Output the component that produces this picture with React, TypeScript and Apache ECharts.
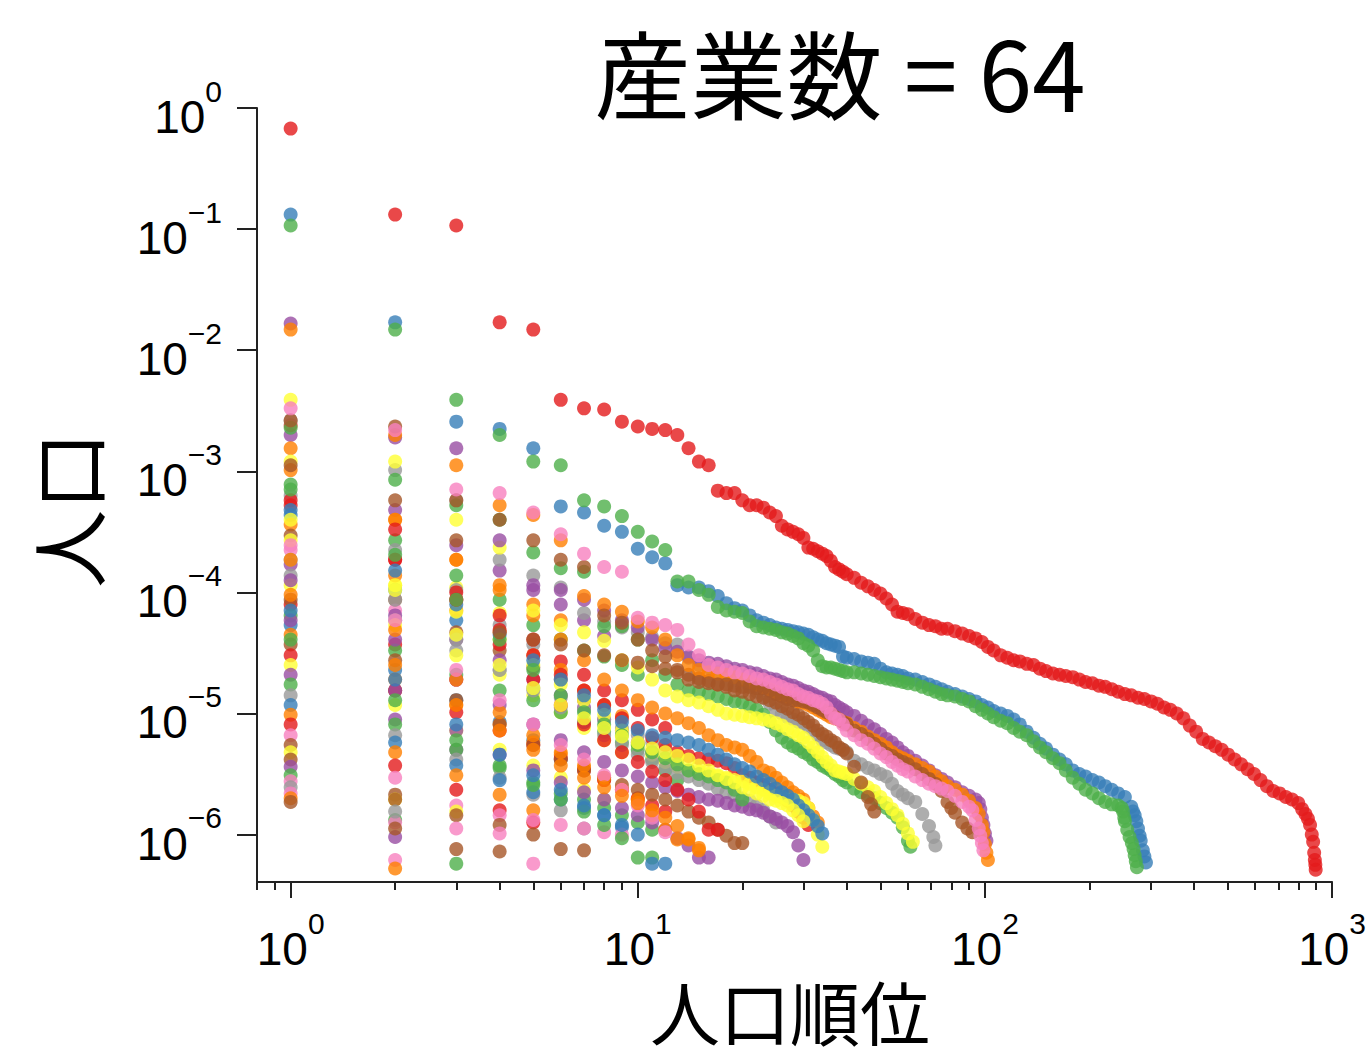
import { useEffect, useRef } from "react";
import * as echarts from "echarts";

// ---------------- DATA (values are log10 of population share, ranks are 1..n) ----------------
const redHead = [-0.17,-0.88,-0.97,-1.77,-1.83,-2.41,-2.48,-2.49,-2.59,-2.63,-2.65,-2.66,-2.70,-2.81,-2.92,-2.95,-3.16,-3.18,-3.18,-3.24,-3.28,-3.28,-3.30,-3.34,-3.37,-3.45,-3.48,-3.50,-3.52,-3.55,-3.63,-3.64,-3.66,-3.68,-3.70,-3.74,-3.79,-3.81,-3.83,-3.85];
const redTail = [[42,-3.88],[44,-3.92],[46,-3.95],[48,-3.98],[50,-4.01],[52,-4.05],[54,-4.10],[56,-4.16],[58,-4.17],[60,-4.18],[63,-4.22],[66,-4.25],[69,-4.27],[72,-4.28],[75,-4.30],[78,-4.30],[82,-4.32],[86,-4.34],[90,-4.36],[94,-4.38],[98,-4.41],[102,-4.45],[106,-4.48],[111,-4.52],[116,-4.54],[121,-4.56],[126,-4.57],[132,-4.59],[138,-4.60],[144,-4.63],[150,-4.65],[157,-4.67],[164,-4.68],[171,-4.69],[179,-4.70],[187,-4.72],[195,-4.74],[204,-4.75],[213,-4.77],[222,-4.78],[232,-4.80],[242,-4.82],[253,-4.84],[264,-4.85],[276,-4.87],[288,-4.88],[301,-4.90],[314,-4.92],[328,-4.95],[342,-4.97],[357,-5.00],[373,-5.04],[389,-5.10],[406,-5.15],[424,-5.21],[442,-5.24],[461,-5.27],[481,-5.30],[502,-5.34],[524,-5.38],[547,-5.42],[571,-5.46],[596,-5.50],[622,-5.55],[649,-5.60],[677,-5.64],[706,-5.66],[736,-5.69],[767,-5.71],[799,-5.74],[820,-5.79],[838,-5.83],[852,-5.87],[864,-5.92],[874,-6.00],[882,-6.06],[888,-6.15],[892,-6.21],[895,-6.25],[897,-6.29]];

const blueHead = [-0.88,-1.77,-2.59,-2.65,-2.81,-3.29,-3.34,-3.45,-3.50,-3.64,-3.71,-3.76,-3.94,-3.96,-3.96,-3.99,-4.03,-4.09,-4.13,-4.15,-4.19,-4.23,-4.25,-4.27,-4.29,-4.30,-4.31,-4.32,-4.33,-4.34,-4.35,-4.37,-4.39,-4.40,-4.42,-4.43,-4.44,-4.45,-4.53,-4.54];
const blueTail = [[42,-4.55],[44,-4.57],[46,-4.58],[48,-4.59],[50,-4.63],[52,-4.66],[54,-4.67],[56,-4.68],[58,-4.69],[60,-4.71],[63,-4.72],[66,-4.74],[69,-4.76],[72,-4.78],[75,-4.80],[78,-4.82],[82,-4.84],[86,-4.86],[90,-4.88],[94,-4.90],[98,-4.93],[102,-4.95],[106,-4.98],[111,-5.00],[116,-5.02],[121,-5.05],[126,-5.09],[132,-5.15],[138,-5.20],[144,-5.25],[150,-5.29],[157,-5.34],[164,-5.38],[171,-5.42],[179,-5.47],[187,-5.50],[195,-5.52],[204,-5.55],[213,-5.57],[222,-5.60],[232,-5.63],[242,-5.66],[253,-5.69],[264,-5.77],[267,-5.81],[270,-5.84],[273,-5.89],[276,-5.95],[279,-6.01],[281,-6.05],[285,-6.13],[288,-6.18],[291,-6.23]];

const greenHead = [-0.97,-1.83,-2.41,-2.70,-2.92,-2.95,-3.24,-3.29,-3.37,-3.50,-3.58,-3.65,-3.91,-3.91,-3.98,-4.02,-4.12,-4.15,-4.16,-4.17,-4.24,-4.28,-4.29,-4.30,-4.31,-4.33,-4.34,-4.36,-4.38,-4.42,-4.44,-4.48,-4.56,-4.61,-4.62,-4.62,-4.63,-4.64,-4.65,-4.66];
const greenTail = [[42,-4.66],[44,-4.67],[46,-4.68],[48,-4.69],[50,-4.70],[52,-4.71],[54,-4.72],[56,-4.73],[58,-4.74],[60,-4.75],[63,-4.76],[66,-4.78],[69,-4.80],[72,-4.82],[75,-4.84],[78,-4.85],[82,-4.86],[86,-4.88],[90,-4.90],[94,-4.94],[98,-4.97],[102,-5.00],[106,-5.03],[111,-5.06],[116,-5.08],[121,-5.12],[126,-5.15],[132,-5.18],[138,-5.23],[144,-5.28],[150,-5.32],[157,-5.37],[164,-5.41],[171,-5.47],[179,-5.53],[187,-5.58],[195,-5.63],[204,-5.66],[213,-5.70],[222,-5.73],[232,-5.75],[242,-5.76],[248,-5.78],[250,-5.81],[252,-5.86],[253,-5.89],[257,-5.96],[261,-6.02],[265,-6.07],[268,-6.12],[270,-6.17],[272,-6.22],[274,-6.27]];

const purple100Head = [-1.78,-2.72,-2.81,-3.57,-3.94,-3.98,-4.06,-4.15,-4.23,-4.29,-4.39,-4.46,-4.49,-4.53,-4.56,-4.58,-4.59,-4.61,-4.63,-4.64,-4.66,-4.67,-4.69,-4.71,-4.72,-4.74,-4.76,-4.77,-4.79,-4.81,-4.82,-4.84,-4.86,-4.87,-4.89,-4.90,-4.93,-4.95,-4.97,-4.99];
const purple100Tail = [[42,-5.02],[44,-5.06],[46,-5.10],[48,-5.13],[50,-5.17],[52,-5.21],[54,-5.24],[56,-5.28],[58,-5.32],[60,-5.35],[63,-5.39],[66,-5.43],[69,-5.47],[72,-5.51],[75,-5.54],[78,-5.57],[82,-5.61],[86,-5.65],[90,-5.68],[94,-5.71],[96,-5.74],[97,-5.79],[98,-5.86],[99,-5.92],[100,-5.99],[101,-6.05]];

const pink100Head = [-2.48,-2.66,-3.15,-3.18,-3.34,-3.52,-3.68,-3.79,-3.83,-4.21,-4.25,-4.27,-4.31,-4.43,-4.52,-4.60,-4.62,-4.64,-4.66,-4.67,-4.69,-4.71,-4.72,-4.74,-4.76,-4.78,-4.80,-4.81,-4.84,-4.86,-4.87,-4.89,-4.90,-4.92,-4.95,-5.00,-5.04,-5.05,-5.09,-5.14];
const pink100Tail = [[42,-5.18],[44,-5.22],[46,-5.25],[48,-5.29],[50,-5.33],[52,-5.36],[54,-5.40],[56,-5.43],[58,-5.46],[60,-5.48],[63,-5.52],[66,-5.55],[69,-5.58],[72,-5.60],[75,-5.62],[78,-5.64],[82,-5.68],[86,-5.73],[90,-5.77],[92,-5.80],[94,-5.88],[96,-5.95],[97,-6.01],[98,-6.07],[99,-6.13]];

const orange100Head = [-1.83,-2.70,-2.95,-3.28,-3.36,-3.57,-4.03,-4.10,-4.16,-4.24,-4.29,-4.39,-4.52,-4.60,-4.64,-4.66,-4.67,-4.68,-4.70,-4.72,-4.74,-4.76,-4.78,-4.80,-4.82,-4.84,-4.86,-4.87,-4.90,-4.91,-4.93,-4.95,-4.97,-4.99,-5.01,-5.03,-5.04,-5.05,-5.07,-5.08];
const orange100Tail = [[42,-5.12],[44,-5.15],[46,-5.19],[48,-5.22],[50,-5.25],[52,-5.28],[54,-5.32],[56,-5.35],[58,-5.37],[60,-5.39],[63,-5.42],[66,-5.45],[69,-5.48],[72,-5.52],[75,-5.56],[78,-5.60],[82,-5.63],[86,-5.67],[90,-5.72],[94,-5.78],[96,-5.83],[98,-5.92],[99,-5.98],[100,-6.08],[101,-6.15],[102,-6.21]];

const brown100Head = [-2.58,-2.63,-3.24,-3.40,-3.57,-3.73,-3.79,-4.19,-4.25,-4.39,-4.48,-4.53,-4.64,-4.72,-4.74,-4.75,-4.76,-4.76,-4.77,-4.78,-4.78,-4.79,-4.79,-4.81,-4.84,-4.86,-4.88,-4.89,-4.89,-4.90,-4.91,-4.93,-4.95,-4.97,-4.99,-5.00,-5.03,-5.05,-5.07,-5.09];
const brown100Tail = [[42,-5.14],[44,-5.17],[46,-5.21],[48,-5.25],[50,-5.29],[52,-5.33],[54,-5.35],[56,-5.38],[58,-5.40],[60,-5.42],[63,-5.46],[66,-5.50],[69,-5.54],[72,-5.58],[75,-5.64],[78,-5.73],[80,-5.78],[82,-5.82],[86,-5.90],[89,-5.95],[92,-5.98]];

const gray72Head = [-2.58,-2.99,-3.24,-3.73,-3.86,-3.96,-4.17,-4.24,-4.29,-4.33,-4.37,-4.42,-4.43,-4.54,-4.60,-4.62,-4.66,-4.68,-4.70,-4.72,-4.77,-4.82,-4.87,-4.92,-4.97,-5.00,-5.03,-5.05,-5.07,-5.08,-5.11,-5.14,-5.18,-5.22,-5.24,-5.26,-5.28,-5.29,-5.30,-5.32];
const gray72Tail = [[42,-5.39],[44,-5.42],[46,-5.45],[48,-5.47],[50,-5.50],[52,-5.52],[54,-5.58],[56,-5.64],[58,-5.67],[60,-5.70],[63,-5.73],[66,-5.83],[69,-5.93],[71,-6.02],[72,-6.09]];

const green61Head = [-2.64,-3.07,-3.28,-3.40,-3.67,-3.80,-3.83,-4.28,-4.28,-4.39,-4.56,-4.68,-4.76,-4.81,-4.82,-4.84,-4.86,-4.88,-4.90,-4.91,-4.94,-4.97,-5.01,-5.07,-5.14,-5.20,-5.24,-5.27,-5.29,-5.32,-5.34,-5.38,-5.40,-5.43,-5.45,-5.47,-5.50,-5.52,-5.55,-5.57];
const green61Tail = [[42,-5.62],[44,-5.65],[46,-5.67],[48,-5.70],[50,-5.74],[52,-5.78],[54,-5.82],[56,-5.86],[58,-5.94],[60,-6.05],[61,-6.10]];

const yellow62Head = [-2.41,-2.92,-3.40,-3.63,-4.15,-4.27,-4.33,-4.40,-4.56,-4.62,-4.72,-4.81,-4.86,-4.89,-4.91,-4.94,-4.97,-5.00,-5.01,-5.02,-5.03,-5.04,-5.05,-5.06,-5.08,-5.10,-5.13,-5.15,-5.18,-5.20,-5.24,-5.28,-5.32,-5.36,-5.40,-5.43,-5.47,-5.48,-5.49,-5.50];
const yellow62Tail = [[42,-5.54],[44,-5.58],[46,-5.61],[48,-5.64],[50,-5.69],[52,-5.74],[54,-5.79],[56,-5.84],[58,-5.91],[60,-5.99],[62,-6.06]];

const brown47Head = [-2.95,-3.24,-3.57,-4.33,-4.39,-4.43,-4.48,-4.52,-4.56,-4.58,-4.61,-4.63,-4.66,-4.68,-4.71,-4.73,-4.76,-4.78,-4.81,-4.82,-4.84,-4.86,-4.87,-4.89,-4.91,-4.94,-4.96,-4.99,-5.01,-5.04,-5.07,-5.10,-5.14,-5.17,-5.19,-5.22,-5.24,-5.28,-5.30,-5.33];
const brown47Tail = [[42,-5.44],[44,-5.57],[46,-5.69],[47,-5.75],[48,-5.81]];

// medium-sized industries
const m01 = [-2.99,-3.40,-3.73,-3.98,-4.19,-4.39,-4.56,-4.72,-4.81,-4.89,-4.95,-5.00,-5.04,-5.08,-5.12,-5.18,-5.22,-5.26,-5.28,-5.30,-5.35,-5.40,-5.47,-5.49,-5.53,-5.57,-5.61,-5.65,-5.68,-5.71,-5.78,-5.85,-5.90];
const m02 = [-3.24,-3.73,-4.06,-4.31,-4.52,-4.68,-4.81,-4.93,-5.04,-5.12,-5.20,-5.26,-5.32,-5.35,-5.37,-5.38,-5.39,-5.41,-5.45,-5.51,-5.53,-5.57,-5.59,-5.63,-5.66,-5.69,-5.72,-5.76,-5.81,-5.86,-5.92];
const m03 = [-3.57,-3.94,-4.16,-4.39,-4.60,-4.76,-4.89,-5.01,-5.14,-5.26,-5.34,-5.40,-5.44,-5.47,-5.48,-5.50,-5.52,-5.53,-5.55,-5.56,-5.58,-5.61,-5.63,-5.66,-5.68,-5.69,-5.71,-5.71,-5.72,-5.74,-5.78,-5.88,-6.00,-6.10];
const m04 = [-3.73,-4.06,-4.39,-4.64,-4.81,-4.95,-5.07,-5.18,-5.26,-5.34,-5.40,-5.45,-5.49,-5.52,-5.55,-5.58,-5.62,-5.65,-5.67,-5.70,-5.72,-5.76,-5.80,-5.85,-5.90];
const m05 = [-3.90,-4.39,-4.72,-4.93,-5.09,-5.22,-5.32,-5.40,-5.47,-5.52,-5.57,-5.61,-5.64,-5.67,-5.69,-5.71,-5.72,-5.74,-5.76,-5.77,-5.79,-5.80,-5.82,-5.85,-5.87,-5.90,-5.93,-5.98,-6.09,-6.21];
const m06 = [-3.32,-3.82,-4.10,-4.35,-4.56,-4.72,-4.85,-4.97,-5.07,-5.14,-5.18,-5.20,-5.22,-5.24,-5.26,-5.30,-5.34,-5.38,-5.42,-5.45,-5.48,-5.52,-5.55,-5.58,-5.62,-5.65,-5.68,-5.71,-5.76,-5.80,-5.84,-5.88,-5.93,-5.99];
const m07 = [-4.06,-4.56,-4.89,-5.09,-5.26,-5.38,-5.47,-5.53,-5.59,-5.63,-5.67,-5.71,-5.76,-5.81,-5.86,-5.90,-5.96,-6.01,-6.07,-6.07];
const m08 = [-4.23,-4.81,-5.14,-5.34,-5.47,-5.57,-5.65,-5.71,-5.78,-5.84,-5.90,-5.96,-6.03,-6.09,-6.19,-6.19];
const m09 = [-2.62,-3.48,-4.06,-4.43,-4.72,-4.93,-5.09,-5.22,-5.32,-5.40,-5.48,-5.55,-5.63,-5.71,-5.81,-5.96,-5.96];
const m10 = [-3.15,-3.69,-4.06,-4.39,-4.64,-4.85,-4.99,-5.09,-5.18,-5.26,-5.32,-5.37,-5.42,-5.47,-5.50,-5.52,-5.55,-5.57,-5.63,-5.71];
const m11 = [-3.73,-4.31,-4.72,-4.99,-5.18,-5.32,-5.43,-5.53,-5.63,-5.71,-5.84,-5.96,-6.04,-6.04,-6.11];
const m12 = [-3.61,-4.23,-4.64,-4.89,-5.09,-5.26,-5.38,-5.51,-5.63,-5.76,-5.86,-5.98];
const m13 = [-3.40,-3.98,-4.35,-4.60,-4.79,-4.93,-5.04,-5.12,-5.19,-5.24,-5.29,-5.32,-5.35,-5.38,-5.43,-5.47,-5.51,-5.54,-5.57,-5.61,-5.63,-5.66,-5.68,-5.71,-5.72,-5.74,-5.76,-5.80,-5.84,-5.89];
const m14 = [-4.39,-4.89,-5.22,-5.43,-5.59,-5.71,-5.81,-5.92,-6.03,-6.19,-6.19];
const m15 = [-4.15,-4.72,-5.09,-5.34,-5.51,-5.63,-5.76,-5.84,-5.92,-6.00,-6.24,-6.24];
const m16 = [-4.02,-4.60,-4.93,-5.14,-5.30,-5.43,-5.53,-5.61,-5.68,-5.74,-5.80,-5.86,-5.93,-6.03,-6.13];

// small industries
const s01 = [-2.70,-3.32,-3.61,-3.82,-3.98,-4.10,-4.23,-4.36];
const s02 = [-2.81,-3.40,-3.73,-3.94,-4.10,-4.23];
const s03 = [-2.92,-3.94,-3.96,-4.17];
const s04 = [-3.11,-3.57,-3.86,-4.06,-4.27,-4.39,-4.48,-4.53,-4.60,-4.68];
const s05 = [-3.20,-3.65,-3.98,-4.27,-4.43];
const s06 = [-3.28,-3.73,-4.00,-4.19,-4.39,-4.57,-4.68,-4.81,-4.89,-4.97,-5.05,-5.12];
const s07 = [-3.36,-3.98,-4.23];
const s08 = [-3.44,-3.86,-4.15,-4.33,-4.52,-4.64,-4.81,-4.93,-5.02];
const s09 = [-3.53,-4.06,-4.33,-4.48,-4.62,-4.72,-4.89];
const s10 = [-3.65,-4.15];
const s11 = [-3.77,-4.19,-4.39,-4.56,-4.72,-4.85,-4.95,-5.05,-5.14,-5.24,-5.32];
const s12 = [-3.86,-4.23,-4.48,-4.64,-4.79,-4.87,-4.97,-5.05,-5.12,-5.18,-5.24,-5.30,-5.37];
const s13 = [-3.94,-4.27,-4.52,-4.68,-4.85,-4.99,-5.12,-5.22,-5.32];
const s14 = [-4.10,-4.43,-4.72];
const s15 = [-4.19,-4.48,-4.68,-4.81,-4.89,-4.99,-5.07,-5.15,-5.24,-5.30,-5.38,-5.47,-5.55];
const s16 = [-4.27,-4.64,-4.89,-5.07,-5.22,-5.38];
const s17 = [-4.35,-4.72,-4.93,-5.09,-5.24,-5.34,-5.45,-5.55,-5.63,-5.71];
const s18 = [-4.43,-4.81];
const s19 = [-4.52,-4.81,-4.99,-5.14,-5.26,-5.37,-5.47,-5.55,-5.63,-5.70,-5.76,-5.81];
const s20 = [-4.60,-4.93,-5.14,-5.30,-5.43,-5.53,-5.63,-5.71];
const s21 = [-4.68,-5.05,-5.30];
const s22 = [-4.76,-5.09,-5.30,-5.45,-5.57,-5.66,-5.71,-5.78,-5.84,-5.90,-5.96];
const s23 = [-4.85,-5.18,-5.38,-5.53,-5.67,-5.80,-5.95];
const s24 = [-4.93,-5.24,-5.43,-5.55,-5.65,-5.71,-5.78,-5.84,-5.94];
const s25 = [-5.01,-5.32,-5.51,-5.67,-5.80];
const s26 = [-5.09,-5.43,-5.63,-5.80,-5.90];
const s27 = [-5.18,-5.53,-5.76,-5.84,-5.88,-5.92,-5.95,-5.98,-6.00];
const s28 = [-5.26,-5.67,-6.12,-6.14];
const s29 = [-5.32,-5.71,-5.81];
const s30 = [-5.38,-5.71,-5.84,-5.92,-6.00,-6.12,-6.13];
const s31 = [-5.44,-6.02];
const s32 = [-5.51,-5.88,-6.24];
const s33 = [-5.56,-5.90,-5.95,-5.99,-6.24];
const s34 = [-5.61,-5.81];
const s35 = [-5.66,-6.21];
const s36 = [-5.70,-6.28];
const s37 = [-5.73,-5.95];

const xMajorTicks = [1, 10, 100, 1000];
const xMinorTicks = [0.8, 0.9, 2, 3, 4, 5, 6, 7, 8, 9, 20, 30, 40, 50, 60, 70, 80, 90, 200, 300, 400, 500, 600, 700, 800, 900];
const yMajorTicks = [1e-6, 1e-5, 1e-4, 1e-3, 1e-2, 1e-1, 1];

const SET1: Record<string, string> = {
  red: "#e41a1c", blue: "#377eb8", green: "#4daf4a", purple: "#984ea3", orange: "#ff7f00",
  yellow: "#ffff33", brown: "#a65628", pink: "#f781bf", gray: "#999999",
};

// draw order: small first, big last
const seriesDefs: [string, number[], number[][] | null][] = [
  ["purple", s01, null], ["orange", s02, null], ["yellow", s03, null], ["green", s04, null], ["gray", s05, null],
  ["red", s06, null], ["blue", s07, null], ["orange", s08, null], ["brown", s09, null], ["pink", s10, null],
  ["purple", s11, null], ["gray", s12, null], ["yellow", s13, null], ["red", s14, null], ["green", s15, null],
  ["blue", s16, null], ["orange", s17, null], ["brown", s18, null], ["red", s19, null], ["yellow", s20, null],
  ["purple", s21, null], ["green", s22, null], ["gray", s23, null], ["blue", s24, null], ["orange", s25, null],
  ["red", s26, null], ["pink", s27, null], ["brown", s28, null], ["yellow", s29, null], ["brown", s30, null],
  ["purple", s31, null], ["green", s32, null], ["pink", s33, null], ["gray", s34, null], ["pink", s35, null],
  ["orange", s36, null], ["brown", s37, null],
  ["orange", m01, null], ["red", m02, null], ["yellow", m03, null], ["gray", m04, null], ["purple", m05, null],
  ["blue", m06, null], ["brown", m07, null], ["purple", m08, null], ["red", m09, null], ["green", m10, null],
  ["orange", m11, null], ["pink", m12, null], ["yellow", m13, null], ["green", m14, null], ["blue", m15, null],
  ["orange", m16, null],
  ["gray", gray72Head, gray72Tail], ["green", green61Head, green61Tail], ["yellow", yellow62Head, yellow62Tail],
  ["brown", brown47Head, brown47Tail], ["purple", purple100Head, purple100Tail], ["orange", orange100Head, orange100Tail],
  ["brown", brown100Head, brown100Tail], ["pink", pink100Head, pink100Tail],
  ["blue", blueHead, blueTail], ["green", greenHead, greenTail], ["red", redHead, redTail],
];

function toPoints(head: number[], tail: number[][] | null) {
  const pts: number[][] = head.map((v, i) => [i + 1, Math.pow(10, v)]);
  if (tail) tail.forEach(([r, v]) => pts.push([r, Math.pow(10, v)]));
  return pts;
}

const TICK_FONT = "'Liberation Sans', Arial, sans-serif";
const CJK_FONT = "'Noto Sans CJK JP', 'Noto Sans CJK SC', sans-serif";

function powLabel(v: number) {
  const e = Math.round(Math.log10(v));
  const s = e < 0 ? "\u2212" + String(-e) : String(e);
  return "{b|10}{e|" + s + "}";
}
const powRich = {
  b: { fontSize: 46, fontFamily: TICK_FONT, color: "#000", lineHeight: 46, padding: [18, 0, 0, 0] },
  e: { fontSize: 30, fontFamily: TICK_FONT, color: "#000", lineHeight: 30, padding: [0, 0, 34, 0] },
};

export default function App() {
  const ref = useRef<HTMLDivElement>(null);
  useEffect(() => {
    if (!ref.current) return;
    const chart = echarts.init(ref.current, null, { renderer: "svg" });
    const axisColor = "#222";
    const option = {
      animation: false,
      backgroundColor: "#fff",
      grid: { left: 257, right: 36, top: 108, bottom: 180, containLabel: false },
      xAxis: [
        {
          type: "log", logBase: 10, min: 0.8, max: 1000, position: "bottom",
          axisLine: { show: true, onZero: false, lineStyle: { color: axisColor, width: 2 } },
          axisTick: { show: true, inside: false, length: 16, customValues: xMajorTicks, lineStyle: { color: axisColor, width: 2 } },
          axisLabel: { show: true, customValues: xMajorTicks, margin: 35, formatter: powLabel, rich: powRich },
          splitLine: { show: false }, minorTick: { show: false },
        },
        {
          type: "log", logBase: 10, min: 0.8, max: 1000, position: "bottom", offset: 0,
          axisLine: { show: false },
          axisTick: { show: true, inside: false, length: 8, customValues: xMinorTicks, lineStyle: { color: axisColor, width: 2 } },
          axisLabel: { show: false },
          splitLine: { show: false },
        },
      ],
      yAxis: {
        type: "log", logBase: 10, min: 4.06e-7, max: 1,
        axisLine: { show: true, onZero: false, lineStyle: { color: axisColor, width: 2 } },
        axisTick: { show: true, inside: false, length: 20, customValues: yMajorTicks, lineStyle: { color: axisColor, width: 2 } },
        axisLabel: { show: true, customValues: yMajorTicks, margin: 35, formatter: powLabel, rich: powRich },
        splitLine: { show: false },
      },
      graphic: [
        {
          type: "text", x: 840, y: 70,
          style: { text: "産業数 = 64", fontSize: 96, lineHeight: 96, fontFamily: CJK_FONT, fill: "#000", align: "center", verticalAlign: "middle", textAlign: "center", textVerticalAlign: "middle" },
        },
        {
          type: "text", x: 790, y: 1010,
          style: { text: "人口順位", fontSize: 70, lineHeight: 70, fontFamily: CJK_FONT, fill: "#000", align: "center", verticalAlign: "middle", textAlign: "center", textVerticalAlign: "middle" },
        },
        {
          type: "text", x: 66, y: 510, rotation: Math.PI / 2,
          style: { text: "人口", fontSize: 78, lineHeight: 78, fontFamily: CJK_FONT, fill: "#000", align: "center", verticalAlign: "middle", textAlign: "center", textVerticalAlign: "middle" },
        },
      ],
      series: seriesDefs.map(([c, head, tail], i) => ({
        name: "industry" + (i + 1),
        type: "scatter",
        xAxisIndex: 0,
        yAxisIndex: 0,
        symbol: "circle",
        symbolSize: 14,
        silent: true,
        itemStyle: { color: SET1[c], opacity: 0.8 },
        data: toPoints(head, tail),
      })),
    };
    chart.setOption(option as any);
    return () => chart.dispose();
  }, []);
  return <div ref={ref} style={{ position: "absolute", left: 0, top: 0, width: 1369, height: 1062 }} />;
}
